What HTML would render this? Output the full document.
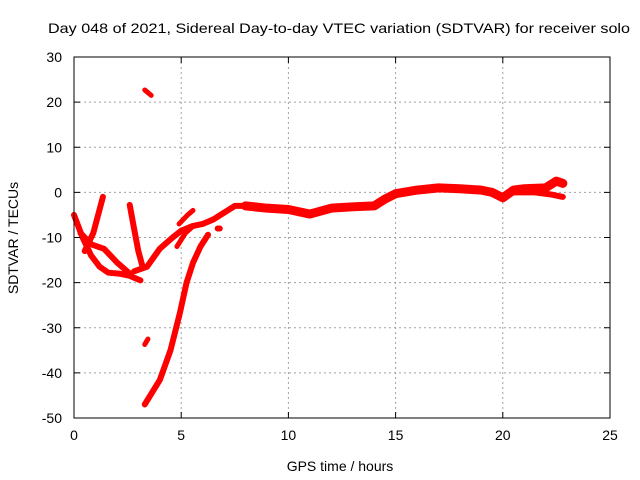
<!DOCTYPE html>
<html><head><meta charset="utf-8"><style>
body{margin:0;background:#fff}
svg{display:block;font-family:"Liberation Sans",Arial,sans-serif}
</style></head><body>
<svg id="chart" width="640" height="480" xmlns="http://www.w3.org/2000/svg">
<rect width="640" height="480" fill="#fff"/>
<text x="339" y="33" font-size="14" text-anchor="middle" textLength="582" lengthAdjust="spacingAndGlyphs">Day 048 of 2021, Sidereal Day-to-day VTEC variation (SDTVAR) for receiver solo</text>
<g id="grid"></g><g id="series"></g><g id="axes"></g>
<text x="340" y="471" font-size="14" text-anchor="middle">GPS time / hours</text>
<text transform="translate(18,238) rotate(-90)" font-size="14" text-anchor="middle">SDTVAR / TECUs</text>
</svg>
<script>
const xTicks=[0,5,10,15,20,25];
const yTicks=[30,20,10,0,-10,-20,-30,-40,-50];
const trackMain=[[0,-5],[0.4,-10],[0.8,-14],[1.2,-16.5],[1.6,-17.8],[2.1,-18],[2.6,-18.5],[3.1,-19.5]];
const trackLoop=[[0.3,-9],[0.8,-11.5],[1.4,-12.5],[2,-15.5],[2.6,-18]];
const trackSpike=[[0.5,-13],[0.9,-9],[1.35,-1]];
const trackFall=[[2.6,-2.8],[2.8,-8],[3.0,-13],[3.2,-16.5]];
const trackRise=[[2.8,-17.5],[3.4,-16.5],[4,-12.5],[4.6,-10],[5,-8.5],[5.5,-7.5],[6,-7],[6.5,-6],[7,-4.5],[7.5,-3],[8,-3]];
const trackShort=[[4.8,-12],[5.2,-9],[5.55,-7.5]];
const trackTick=[[4.9,-7],[5.3,-5],[5.55,-4]];
const trackDeep=[[3.3,-47],[4.0,-41.6],[4.5,-35],[4.94,-26.7],[5.25,-20],[5.55,-15.6],[5.9,-12],[6.25,-9.4]];
const trackIso1=[[3.3,22.7],[3.6,21.5]];
const trackIso2=[[3.3,-33.7],[3.45,-32.5]];
const trackIso3=[[6.7,-8],[6.8,-8]];
const trackLate=[[8,-3],[9,-3.5],[10,-3.8],[11,-4.8],[12,-3.5],[13,-3.2],[14,-3],[14.5,-1.5],[15,-0.3],[16,0.5],[17,1],[18,0.8],[19,0.5],[19.5,0],[20,-1.2],[20.5,0.5],[21,0.8],[22,1],[22.5,2.5],[22.8,2]];
const trackLate2=[[20.5,0],[21.5,0],[22.3,-0.5],[22.8,-1]];
const tracks=[trackMain,trackLoop,trackSpike,trackFall,trackRise,trackShort,trackTick,trackDeep,trackIso1,trackIso2,trackIso3,trackLate,trackLate2];
const widths=[6,6,6,6,6,5,5,6,5,5,6,9,6];
const X0=74,X1=610,Y0=57,Y1=418;
const sx=v=>X0+(v-0)/(25-0)*(X1-X0);
const sy=v=>Y1-(v+50)/80*(Y1-Y0);
const NS="http://www.w3.org/2000/svg";
const g=document.getElementById('grid'),s=document.getElementById('series'),a=document.getElementById('axes');
function mk(tag,attrs,parent){const e=document.createElementNS(NS,tag);for(const k in attrs)e.setAttribute(k,attrs[k]);parent.appendChild(e);return e;}
xTicks.forEach(t=>{
 if(t>0&&t<25){const l=mk('line',{x1:sx(t),x2:sx(t),y1:Y0,y2:Y1,stroke:'#a0a0a0','stroke-dasharray':'2,3'},g);
 
 }
 mk('line',{x1:sx(t),x2:sx(t),y1:Y1,y2:Y1-6,stroke:'#000'},a);
 mk('line',{x1:sx(t),x2:sx(t),y1:Y0,y2:Y0+6,stroke:'#000'},a);
 const tx=mk('text',{x:sx(t),y:Y1+22,'font-size':14,'text-anchor':'middle'},a);tx.textContent=t;
 
 
});
yTicks.forEach(t=>{
 if(t>-50&&t<30){const l=mk('line',{x1:X0,x2:X1,y1:sy(t),y2:sy(t),stroke:'#a0a0a0','stroke-dasharray':'2,3'},g);
 
 }
 mk('line',{x1:X0,x2:X0+6,y1:sy(t),y2:sy(t),stroke:'#000'},a);
 mk('line',{x1:X1,x2:X1-6,y1:sy(t),y2:sy(t),stroke:'#000'},a);
 const tx=mk('text',{x:X0-12,y:sy(t)+5,'font-size':14,'text-anchor':'end'},a);tx.textContent=t;
 
 
});
const fr=mk('rect',{x:X0,y:Y0,width:X1-X0,height:Y1-Y0,fill:'none',stroke:'#000'},a);


tracks.forEach((tr,i)=>{
 const p=mk('polyline',{points:tr.map(d=>sx(d[0])+','+sy(d[1])).join(' '),fill:'none',stroke:'#ff0000','stroke-width':widths[i],'stroke-linecap':'round','stroke-linejoin':'round'},s);
 
 
});
</script>
</body></html>
